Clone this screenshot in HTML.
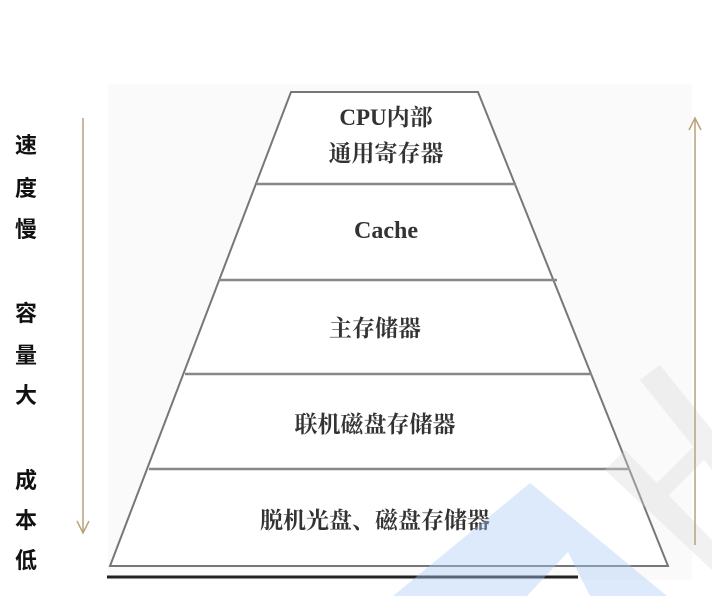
<!DOCTYPE html>
<html><head><meta charset="utf-8"><style>
html,body{margin:0;padding:0;background:#fff;}
body{width:712px;height:596px;position:relative;overflow:hidden;font-family:"Liberation Serif","Noto Serif CJK SC",serif;}
.l{position:absolute;left:12px;width:28px;text-align:center;font:bold 22px "Liberation Sans","Noto Sans CJK SC",sans-serif;color:#111;}
.t{position:absolute;text-align:center;color:#333;font-weight:bold;}
</style></head><body>
<svg width="712" height="596" style="position:absolute;left:0;top:0">
<rect x="108" y="84" width="584" height="496" fill="#fafafa"/>
<polygon points="291,92 478,92 668,566 110,566" fill="#fff" stroke="#777" stroke-width="2"/>
<g stroke="#888" stroke-width="2.5">
<line x1="256" y1="184" x2="516" y2="184"/>
<line x1="219" y1="280" x2="557" y2="280"/>
<line x1="185" y1="374" x2="592" y2="374"/>
<line x1="149" y1="469" x2="630" y2="469"/>
</g>
<line x1="107" y1="577" x2="578" y2="577" stroke="#222" stroke-width="3"/>
</svg>
<div class="t" style="left:291px;top:100px;width:190px;font-size:23px;line-height:36px">CPU内部<br>通用寄存器</div>
<div class="t" style="left:291px;top:218px;width:190px;font-size:24px">Cache</div>
<div class="t" style="left:280px;top:310px;width:190px;font-size:23px">主存储器</div>
<div class="t" style="left:230px;top:406px;width:290px;font-size:23px">联机磁盘存储器</div>
<div class="t" style="left:180px;top:502px;width:390px;font-size:23px">脱机光盘、磁盘存储器</div>
<svg width="712" height="596" style="position:absolute;left:0;top:0">
<g fill="#d8d8d8" opacity="0.35">
<polygon points="640,380 660,365 712,430 712,470"/>
<polygon points="605,470 625,450 712,540 712,570"/>
<polygon points="640,500 700,440 712,452 652,512"/>
</g>
<path d="M393,596 L530,483 L667,596 Z M527,596 L568,552 L590,596 Z" fill-rule="evenodd" fill="#a9cbf5" opacity="0.4"/>
<g stroke="#b9a17c" stroke-width="1.5" fill="none">
<line x1="83" y1="118" x2="83" y2="533"/>
<polyline points="77,521 83,533 89,521"/>
<line x1="695" y1="118" x2="695" y2="545"/>
<polyline points="689,130 695,118 701,130"/>
</g>
</svg>
<div class="l" style="top:128px">速</div>
<div class="l" style="top:171px">度</div>
<div class="l" style="top:212px">慢</div>
<div class="l" style="top:296px">容</div>
<div class="l" style="top:338px">量</div>
<div class="l" style="top:378px">大</div>
<div class="l" style="top:463px">成</div>
<div class="l" style="top:503px">本</div>
<div class="l" style="top:543px">低</div>
</body></html>
